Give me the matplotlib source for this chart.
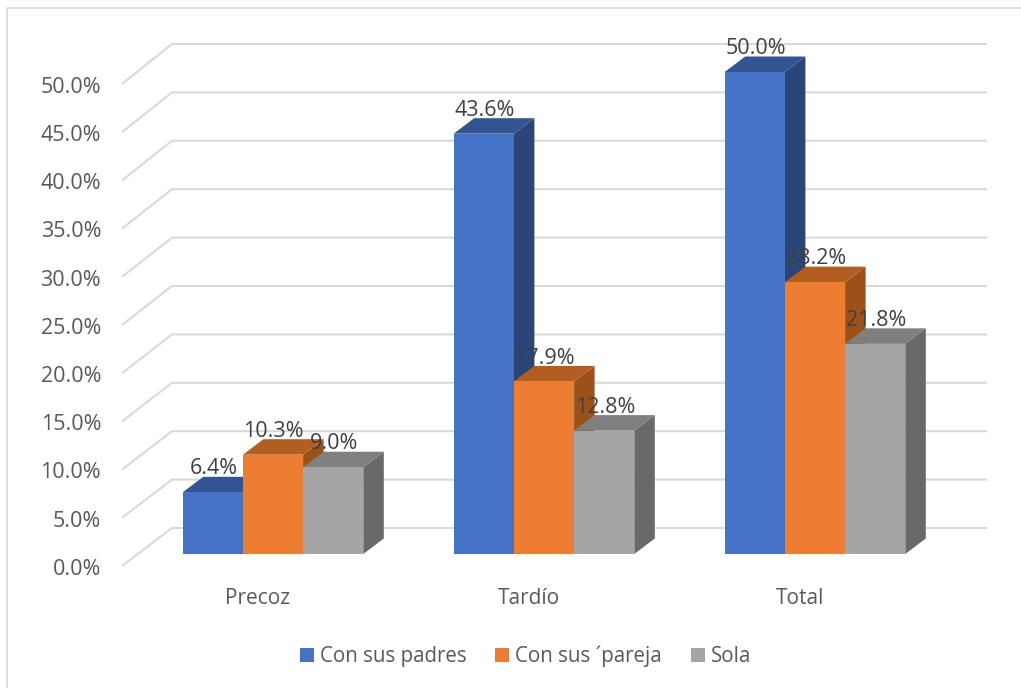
import matplotlib
matplotlib.use('Agg')
import matplotlib.pyplot as plt
from matplotlib.patches import Polygon, Patch

plt.rcParams['font.family'] = ['Open Sans', 'DejaVu Sans']

categories = ['Precoz', 'Tardío', 'Total']
series_names = ['Con sus padres', 'Con sus ´pareja', 'Sola']
padres = [6.4, 43.6, 50.0]
pareja = [10.3, 17.9, 28.2]
sola = [9.0, 12.8, 21.8]
ticks = [0, 5, 10, 15, 20, 25, 30, 35, 40, 45, 50]

front_colors = ['#4472C4', '#ED7D31', '#A5A5A5']
top_colors = ['#335593', '#B25E20', '#7F7F7F']
side_colors = ['#2A4679', '#9B5118', '#696969']

# scales of the axes, in pixels per data unit
W, H = 1021, 688
px_x = 271.0
px_y = 9.64
x0_px = 273.0
y0_px = 554.0

fig = plt.figure(figsize=(W / 100, H / 100), dpi=100)
ax = fig.add_axes([0, 0, 1, 1])
ax.set_xlim(-x0_px / px_x, (W - x0_px) / px_x)
ax.set_ylim((y0_px - H) / px_y, y0_px / px_y)
ax.axis('off')

bar_w = 60.2 / px_x
dx = 20.5 / px_x
dy = 15.5 / px_y

# walls of the 3d box: gridlines run along the back, then down to the front edge
wall_left = (122 - x0_px) / px_x
wall_back = (172 - x0_px) / px_x
wall_right = (987 - x0_px) / px_x
grid_color = '#D9D9D9'
for t in ticks:
    front_y = t * 48.2 / 50 / 9.64 * 10 - 12 / px_y
    back_y = t * 48.4 / 50 / 9.64 * 10 + 26 / px_y
    ax.plot([wall_left, wall_back, wall_right], [front_y, back_y, back_y],
            color=grid_color, lw=1.5, zorder=1, solid_joinstyle='miter', solid_capstyle='butt')
    ax.annotate(f'{t:.1f}%', (wall_left, front_y), xytext=(-15, -2.4), textcoords='offset points',
                ha='right', va='center', fontsize=15.5, color='#595959')

values = [padres, pareja, sola]
z = 2
for c in range(len(categories)):
    for s in range(3):
        v = values[s][c]
        left = c + (s - 1.5) * bar_w
        right = left + bar_w
        ax.add_patch(Polygon([(right, 0), (right + dx, dy), (right + dx, v + dy), (right, v)],
                             fc=side_colors[s], ec='none', zorder=z))
        ax.add_patch(Polygon([(left, v), (right, v), (right + dx, v + dy), (left + dx, v + dy)],
                             fc=top_colors[s], ec='none', zorder=z))
        ax.add_patch(Polygon([(left, 0), (right, 0), (right, v), (left, v)],
                             fc=front_colors[s], ec='none', zorder=z + 1))
        z += 2

for c in range(len(categories)):
    for s in range(3):
        v = values[s][c]
        ax.annotate(f'{v:.1f}%', (c + (s - 1) * bar_w, v), xytext=(0.5, 16.8), textcoords='offset points',
                    ha='center', va='center', fontsize=15.5, color='#404040', zorder=50)
    ax.annotate(categories[c], (c - 15 / px_x, 0), xytext=(0, -32), textcoords='offset points',
                ha='center', va='center', fontsize=15, color='#595959')

handles = [Patch(fc=front_colors[i], ec='none', label=series_names[i]) for i in range(3)]
ax.legend(handles=handles, loc='center', bbox_to_anchor=(525.5 / W, 1 - 656 / H), ncol=3, frameon=False,
          fontsize=14.8, labelcolor='#595959', handlelength=0.67, handleheight=0.67,
          handletextpad=0.3, columnspacing=1.4, borderpad=0)

# chart border
ax.plot([(7 - x0_px) / px_x, (7 - x0_px) / px_x, (W - x0_px) / px_x],
        [(y0_px - H) / px_y, (y0_px - 8) / px_y, (y0_px - 8) / px_y],
        color=grid_color, lw=1.2, zorder=1, clip_on=False)

fig.savefig('out.png', dpi=100)
